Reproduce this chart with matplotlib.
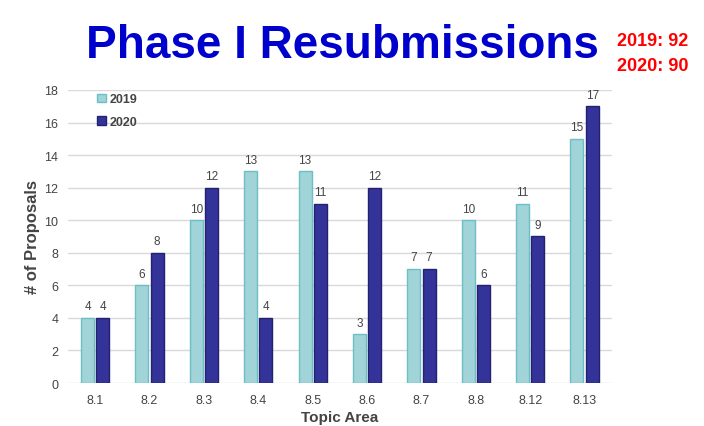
import numpy as np
import matplotlib
matplotlib.use("Agg")
import matplotlib.pyplot as plt

plt.rcParams["font.family"] = ["Liberation Sans", "DejaVu Sans"]

topics  = ["8.1", "8.2", "8.3", "8.4", "8.5", "8.6", "8.7", "8.8", "8.12", "8.13"]
y2019   = [4, 6, 10, 13, 13, 3, 7, 10, 11, 15]
y2020   = [4, 8, 12, 4, 11, 12, 7, 6, 9, 17]
totals  = {"2019": 92, "2020": 90}
yticks  = [0, 2, 4, 6, 8, 10, 12, 14, 16, 18]

C19, E19 = "#a0d4d8", "#6cbfc4"
C20, E20 = "#333399", "#22226e"
GRAY = "#444444"

fig = plt.figure(figsize=(7.04, 4.27), dpi=100)
ax = fig.add_axes([0.0966, 0.1007, 0.7724, 0.6863])

x = np.arange(len(topics))
w = 0.24
b1 = ax.bar(x - 0.14, y2019, w, color=C19, edgecolor=E19, lw=1, label="2019", zorder=3)
b2 = ax.bar(x + 0.14, y2020, w, color=C20, edgecolor=E20, lw=1, label="2020", zorder=3)

for bars in (b1, b2):
    for r in bars:
        ax.annotate(f"{int(r.get_height())}", (r.get_x() + r.get_width() / 2, r.get_height()),
                    xytext=(0, 4), textcoords="offset points", ha="center", va="bottom",
                    fontsize=8.5, color=GRAY)

ax.set_xlim(-0.5, len(topics) - 0.5)
ax.set_ylim(0, 18)
ax.set_yticks(yticks)
ax.set_xticks(x)
ax.set_xticklabels(topics)
ax.tick_params(length=0, labelsize=9, labelcolor=GRAY, pad=8)
ax.tick_params(axis="y", pad=7)
ax.grid(axis="y", color="#d9d9d9", lw=1, zorder=0)
for s in ax.spines.values():
    s.set_visible(False)

ax.set_xlabel("Topic Area", fontsize=11, fontweight="bold", color=GRAY, labelpad=3)
ax.set_ylabel("# of Proposals", fontsize=12, fontweight="bold", color=GRAY, labelpad=3)

leg = ax.legend(loc="upper left", bbox_to_anchor=(0.045, 1.005), frameon=False,
                fontsize=9, handlelength=0.7, handleheight=0.7, labelspacing=0.85,
                handletextpad=0.3, borderaxespad=0)
for t in leg.get_texts():
    t.set_fontweight("bold")
    t.set_color(GRAY)

fig.text(0.487, 0.892, "Phase I Resubmissions", ha="center", va="center",
         fontsize=33, fontweight="bold", color="#0000cc")
fig.text(0.877, 0.902, f"2019: {totals['2019']}", ha="left", va="center",
         fontsize=13, fontweight="bold", color="#ff0000")
fig.text(0.877, 0.845, f"2020: {totals['2020']}", ha="left", va="center",
         fontsize=13, fontweight="bold", color="#ff0000")

fig.savefig("out.png", dpi=100)
